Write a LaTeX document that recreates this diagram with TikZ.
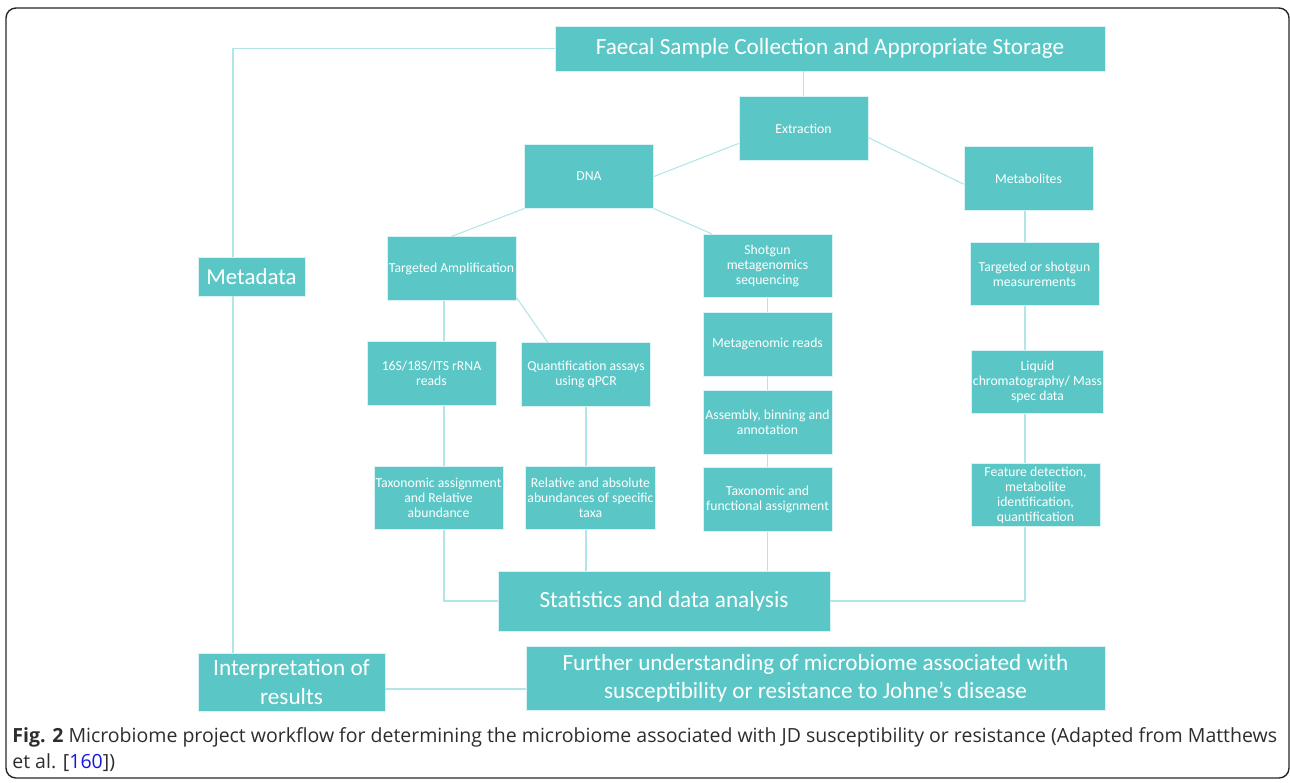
\documentclass[tikz,border=0pt]{standalone}
\usepackage{fontspec}
\setmainfont{Carlito}
\newfontfamily\capfont{Open Sans}
\usetikzlibrary{positioning}

\definecolor{boxteal}{RGB}{90,199,198}
\definecolor{linecyan}{RGB}{178,229,231}
\definecolor{captext}{RGB}{45,45,45}
\definecolor{citeblue}{RGB}{20,20,235}

\begin{document}
\begin{tikzpicture}[
    x=0.02cm, y=-0.02cm,
    node distance=0.28cm,
    stepbox/.style={
        fill=boxteal,
        draw=linecyan!50!white,
        line width=0.4pt,
        text=white,
        align=center,
        inner sep=1pt,
        minimum width=2.58cm,
        minimum height=1.27cm,
        font=\fontsize{7.8}{8.6}\selectfont
    },
    bigbox/.style={
        fill=boxteal,
        draw=linecyan!50!white,
        line width=0.4pt,
        text=white,
        align=center,
        inner sep=1pt,
        font=\fontsize{13.2}{16}\selectfont
    },
    link/.style={draw=linecyan, line width=0.6pt}
]
\useasboundingbox (0,0) rectangle (1290,782);

% outer frame of the figure
\draw[line width=0.8pt, rounded corners=0.2cm, black!85] (6,8) rectangle (1289,778);

\node[bigbox, minimum width=11.0cm, minimum height=0.9cm] (faecal) at (830,48.5) {Faecal Sample Collection and Appropriate Storage};
\node[stepbox] (extraction) at (803.5,128.5) {Extraction};
\node[stepbox] (dna) at (589,176.5) {DNA};
\node[stepbox] (metab) at (1028.5,178.5) {Metabolites};
\node[bigbox, minimum width=2.14cm, minimum height=0.78cm, font=\fontsize{13}{16}\selectfont] (metadata) at (251.5,276.5) {Metadata};

\node[stepbox] (targamp) at (451.5,268.5) {Targeted Amplification};
\node[stepbox] (shotgun) at (767.5,266) {Shotgun\\metagenomics\\sequencing};
\node[stepbox] (targmeas) at (1034.5,274) {Targeted or shotgun\\measurements};

\node[stepbox] (rrna) at (431.5,373.5) {16S/18S/ITS rRNA\\reads};
\node[stepbox] (qpcr) at (586,374.5) {Quantification assays\\using qPCR};
\node[stepbox, below=of shotgun] (metareads) {Metagenomic reads};
\node[stepbox, below=of metareads] (assembly) {Assembly, binning and\\annotation};
\node[stepbox, below=0.26cm of assembly] (taxfunc) {Taxonomic and\\functional assignment};
\node[stepbox] (lcms) at (1037.5,382) {Liquid\\chromatography/ Mass\\spec data};

\node[stepbox] (taxrel) at (438.5,498) {Taxonomic assignment\\and Relative\\abundance};
\node[stepbox] (absab) at (590.5,498) {Relative and absolute\\abundances of specific\\taxa};
\node[stepbox] (feature) at (1035.5,495) {Feature detection,\\metabolite\\identification,\\quantification};

\node[bigbox, minimum width=6.64cm, minimum height=1.2cm] (stats) at (664,601) {Statistics and data analysis};
\node[bigbox, minimum width=3.74cm, minimum height=1.16cm] (interp) at (291.5,682) {Interpretation of\\results};
\node[bigbox, minimum width=11.58cm, minimum height=1.28cm] (further) at (815.5,678) {Further understanding of microbiome associated with\\susceptibility or resistance to Johne’s disease};

\node[anchor=north west, align=left, inner sep=0pt, text=captext, font=\capfont\fontsize{11.1}{14.8}\selectfont] (caption) at (12,727) {\textbf{Fig. 2} Microbiome project workflow for determining the microbiome associated with JD susceptibility or resistance (Adapted from Matthews\\et al. [\textcolor{citeblue}{160}])};

\coordinate (metaline) at (233,0);
\coordinate (leftline) at (444,0);
\coordinate (rightline) at (1025,0);

\draw[link] (faecal.west) -| (metaline |- metadata.north);
\draw[link] (metaline |- metadata.south) -- (metaline |- interp.north);
\draw[link] (extraction.north |- faecal.south) -- (extraction.north);
\draw[link] (extraction.193) -- (dna.east);
\draw[link] (extraction.352) -- (metab.185);
\draw[link] (dna.south west) -- (targamp.north);
\draw[link] (dna.south east) -- (shotgun.150);

\draw[link] (leftline |- targamp.south) -- (leftline |- rrna.north);
\draw[link] (targamp.336) -- (qpcr.140);
\draw[link] (leftline |- rrna.south) -- (leftline |- taxrel.north);
\draw[link] (leftline |- taxrel.south) |- (stats.west);
\draw[link] (qpcr.south) -- (qpcr.south |- absab.north);
\draw[link] (qpcr.south |- absab.south) -- (qpcr.south |- stats.north);

\draw[link] (shotgun.south) -- (metareads.north);
\draw[link] (metareads.south) -- (assembly.north);
\draw[link] (assembly.south) -- (taxfunc.north);
\draw[link] (taxfunc.south) -- (taxfunc.south |- stats.north);

\draw[link] (rightline |- metab.south) -- (rightline |- targmeas.north);
\draw[link] (rightline |- targmeas.south) -- (rightline |- lcms.north);
\draw[link] (rightline |- lcms.south) -- (rightline |- feature.north);
\draw[link] (rightline |- feature.south) |- (stats.east);

\draw[link] ([yshift=-0.14cm]interp.east) -- ([yshift=-0.14cm]interp.east -| further.west);

\end{tikzpicture}
\end{document}
